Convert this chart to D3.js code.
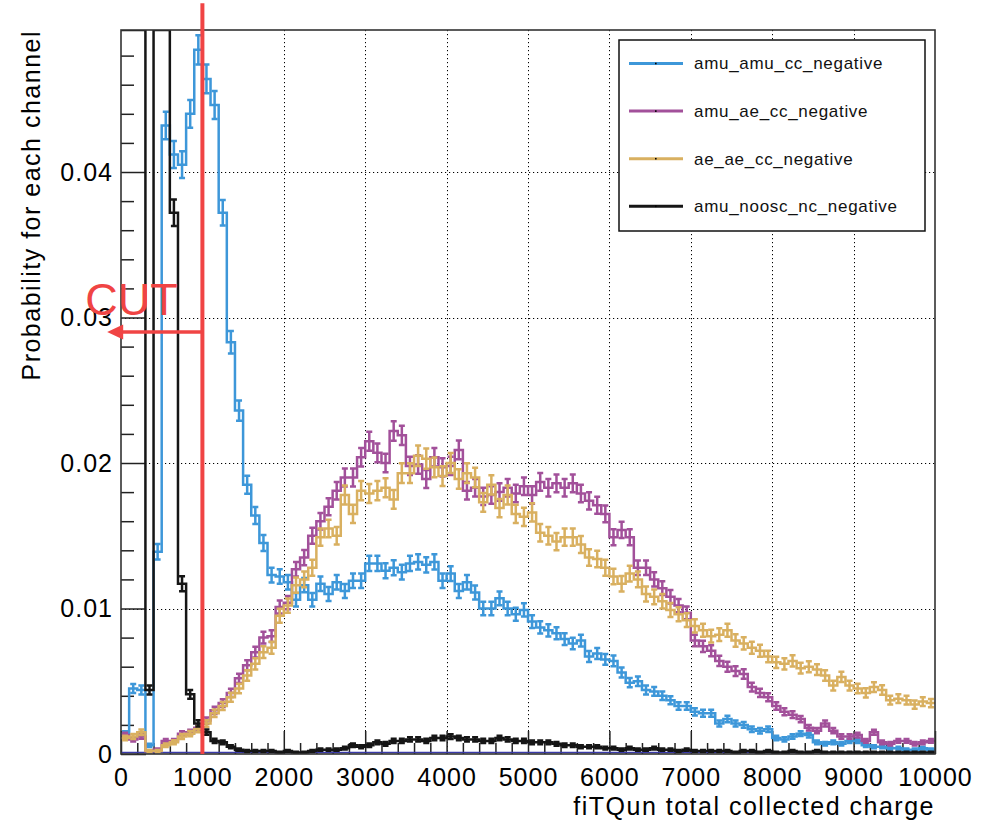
<!DOCTYPE html>
<html>
<head>
<meta charset="utf-8">
<script src="https://cdn.jsdelivr.net/npm/d3@7/dist/d3.min.js"></script>
<style>
  body { margin: 0; background: #fff; }
  svg { display: block; }
  text { font-family: "Liberation Sans", Arial, Helvetica, sans-serif; }
</style>
</head>
<body>
<svg id="chart" width="994" height="821"></svg>
<script>
// ---- Histogram definition: 100 bins over the collected-charge range ----
const binRange = [0, 10000];
const binCount = 100;
const yMax = 0.04976;

const seriesNames = [
  "amu_amu_cc_negative",
  "amu_ae_cc_negative",
  "ae_ae_cc_negative",
  "amu_noosc_nc_negative"
];

// Normalised bin contents (probability per 100-unit bin)
const amuAmuCC = [
  0.0014, 0.0045, 0.0044, 0.0006, 0.0139, 0.0432, 0.0412, 0.0405, 0.0440, 0.0484,
  0.0464, 0.0446, 0.0372, 0.0283, 0.0236, 0.0185, 0.0164, 0.0145, 0.0123, 0.0122,
  0.0118, 0.0106, 0.0116, 0.0106, 0.0117, 0.0110, 0.0118, 0.0112, 0.0119, 0.0119,
  0.0131, 0.0131, 0.0126, 0.0128, 0.0125, 0.0131, 0.0132, 0.0130, 0.0132, 0.0119,
  0.0124, 0.0112, 0.0118, 0.0111, 0.0100, 0.0100, 0.0107, 0.0100, 0.0096, 0.0099,
  0.0091, 0.0087, 0.0085, 0.0083, 0.0079, 0.0076, 0.0078, 0.0067, 0.0069, 0.0065,
  0.0064, 0.0056, 0.0049, 0.0050, 0.0044, 0.0043, 0.0040, 0.0037, 0.0033, 0.0033,
  0.0029, 0.0028, 0.0028, 0.0021, 0.0024, 0.0021, 0.0020, 0.0017, 0.0016, 0.0017,
  0.0011, 0.0010, 0.0012, 0.0014, 0.0013, 0.0008, 0.0007, 0.0008, 0.0007, 0.0009,
  0.0009, 0.0006, 0.0005, 0.0005, 0.0004, 0.0004, 0.0003, 0.0003, 0.0004, 0.0003
];

const amuAeCC = [
  0.0013, 0.0010, 0.0012, 0.0002, 0.0003, 0.0009, 0.0009, 0.0014, 0.0015, 0.0018,
  0.0023, 0.0030, 0.0035, 0.0042, 0.0052, 0.0061, 0.0070, 0.0080, 0.0081, 0.0101,
  0.0104, 0.0127, 0.0135, 0.0150, 0.0160, 0.0170, 0.0181, 0.0190, 0.0190, 0.0204,
  0.0215, 0.0207, 0.0200, 0.0222, 0.0219, 0.0198, 0.0199, 0.0189, 0.0204, 0.0197,
  0.0198, 0.0209, 0.0181, 0.0183, 0.0177, 0.0178, 0.0180, 0.0183, 0.0179, 0.0184,
  0.0178, 0.0187, 0.0183, 0.0186, 0.0183, 0.0186, 0.0179, 0.0174, 0.0171, 0.0165,
  0.0149, 0.0154, 0.0149, 0.0128, 0.0128, 0.0120, 0.0114, 0.0108, 0.0102, 0.0097,
  0.0078, 0.0074, 0.0071, 0.0064, 0.0060, 0.0057, 0.0055, 0.0046, 0.0042, 0.0039,
  0.0033, 0.0029, 0.0027, 0.0024, 0.0018, 0.0016, 0.0021, 0.0016, 0.0012, 0.0012,
  0.0013, 0.0009, 0.0015, 0.0008, 0.0007, 0.0009, 0.0009, 0.0007, 0.0008, 0.0009
];

const aeAeCC = [
  0.0011, 0.0012, 0.0015, 0.0002, 0.0002, 0.0006, 0.0008, 0.0012, 0.0014, 0.0017,
  0.0021, 0.0028, 0.0033, 0.0039, 0.0045, 0.0054, 0.0062, 0.0070, 0.0073, 0.0095,
  0.0102, 0.0116, 0.0120, 0.0128, 0.0149, 0.0155, 0.0150, 0.0178, 0.0165, 0.0181,
  0.0179, 0.0181, 0.0183, 0.0175, 0.0193, 0.0193, 0.0205, 0.0203, 0.0197, 0.0191,
  0.0200, 0.0189, 0.0193, 0.0190, 0.0173, 0.0185, 0.0169, 0.0178, 0.0165, 0.0163,
  0.0166, 0.0152, 0.0150, 0.0146, 0.0149, 0.0149, 0.0144, 0.0135, 0.0134, 0.0128,
  0.0122, 0.0117, 0.0124, 0.0120, 0.0110, 0.0108, 0.0105, 0.0099, 0.0096, 0.0092,
  0.0088, 0.0085, 0.0081, 0.0082, 0.0085, 0.0078, 0.0076, 0.0073, 0.0071, 0.0067,
  0.0063, 0.0062, 0.0064, 0.0059, 0.0060, 0.0058, 0.0054, 0.0047, 0.0053, 0.0047,
  0.0045, 0.0042, 0.0046, 0.0044, 0.0037, 0.0038, 0.0037, 0.0034, 0.0036, 0.0035
];

const amuNooscNC = [
  0.1200, 0.2200, 0.2600, 0.0044, 0.1500, 0.0700, 0.0372, 0.0117, 0.0041, 0.0021,
  0.0015, 0.0009, 0.0008, 0.0005, 0.0003, 0.0002, 0.0002, 0.0002, 0.0002, 0.0001,
  0.0002, 0.0001, 0.0001, 0.0002, 0.0003, 0.0003, 0.0003, 0.0004, 0.0006, 0.0005,
  0.0006, 0.0008, 0.0007, 0.0009, 0.0009, 0.0010, 0.0010, 0.0009, 0.0011, 0.0011,
  0.0012, 0.0011, 0.0010, 0.0010, 0.0009, 0.0009, 0.0011, 0.0010, 0.0009, 0.0009,
  0.0008, 0.0008, 0.0008, 0.0007, 0.0006, 0.0006, 0.0005, 0.0005, 0.0005, 0.0004,
  0.0004, 0.0003, 0.0004, 0.0003, 0.0003, 0.0004, 0.0003, 0.0003, 0.0002, 0.0003,
  0.0002, 0.0002, 0.0002, 0.0002, 0.0002, 0.0001, 0.0002, 0.0002, 0.0001, 0.0002,
  0.0001, 0.0001, 0.0002, 0.0001, 0.0001, 0.0002, 0.0001, 0.0001, 0.0001, 0.0001,
  0.0001, 0.0001, 0.0001, 0.0001, 0.0001, 0.0001, 0.0001, 0.0001, 0.0001, 0.0001
];

// Effective number of entries per channel, used for the Poisson error bars
const effectiveEntries = [48000, 50000, 42000, 45000];

const xTickLabels = ["0", "1000", "2000", "3000", "4000", "5000", "6000", "7000", "8000", "9000", "10000"];
const yTickLabels = ["0", "0.01", "0.02", "0.03", "0.04"];

const xTitle = "fiTQun total collected charge";
const yTitle = "Probability for each channel";

// Selection cut
const cutValue = 1000;
const cutLabel = "CUT";

// ---- Layout ----
const frame = { left: 121, right: 935, top: 30, bottom: 754 };
const colors = ["#3d97d9", "#a2509a", "#d9b060", "#151515"];

const svg = d3.select("#chart");
const x = d3.scaleLinear().domain(binRange).range([frame.left, frame.right]);
const y = d3.scaleLinear().domain([0, yMax]).range([frame.bottom, frame.top]);
const yc = y.copy().clamp(true);

svg.append("defs").append("clipPath").attr("id", "frameClip")
  .append("rect")
  .attr("x", frame.left).attr("y", frame.top)
  .attr("width", frame.right - frame.left).attr("height", frame.bottom - frame.top);

// ---- Grid (dotted) ----
const xMajor = xTickLabels.map(Number);
const yMajor = yTickLabels.map(Number);
const grid = svg.append("g").attr("stroke", "#000").attr("stroke-width", 1).attr("stroke-dasharray", "1.2,2.8");
grid.selectAll("line.gx").data(xMajor.slice(1, -1)).join("line")
  .attr("x1", d => Math.round(x(d)) + 0.5).attr("x2", d => Math.round(x(d)) + 0.5)
  .attr("y1", frame.top).attr("y2", frame.bottom);
grid.selectAll("line.gy").data(yMajor.slice(1)).join("line")
  .attr("y1", d => Math.round(y(d)) + 0.5).attr("y2", d => Math.round(y(d)) + 0.5)
  .attr("x1", frame.left).attr("x2", frame.right);

// ---- Axes (ticks inside the frame) ----
const axisColor = "#222";
const xAxisG = svg.append("g").attr("transform", `translate(0,${frame.bottom})`);
xAxisG.call(d3.axisBottom(x).tickValues(xMajor).tickFormat((d, i) => xTickLabels[i])
  .tickSizeInner(-23).tickSizeOuter(0).tickPadding(14));
const xMinorG = svg.append("g").attr("transform", `translate(0,${frame.bottom})`);
xMinorG.call(d3.axisBottom(x).tickValues(d3.range(binRange[0], binRange[1] + 1, 200).filter(v => v % 1000 !== 0))
  .tickFormat("").tickSizeInner(-11).tickSizeOuter(0));

const yAxisG = svg.append("g").attr("transform", `translate(${frame.left},0)`);
yAxisG.call(d3.axisLeft(y).tickValues(yMajor).tickFormat((d, i) => yTickLabels[i])
  .tickSizeInner(-25).tickSizeOuter(0).tickPadding(8));
const yMinorG = svg.append("g").attr("transform", `translate(${frame.left},0)`);
yMinorG.call(d3.axisLeft(y).tickValues(d3.range(0, yMax, 0.002).filter((v, i) => i % 5 !== 0))
  .tickFormat("").tickSizeInner(-13).tickSizeOuter(0));

[xAxisG, xMinorG, yAxisG, yMinorG].forEach(g => {
  g.select(".domain").remove();
  g.selectAll(".tick line").attr("stroke", axisColor).attr("stroke-width", 1.5);
  g.selectAll(".tick text").attr("fill", "#000").attr("font-size", 25)
    .attr("letter-spacing", 1).attr("font-family", '"Liberation Sans", Arial, sans-serif');
});

// ---- Histograms ----
const binWidth = (binRange[1] - binRange[0]) / binCount;
const allSeries = [amuAmuCC, amuAeCC, aeAeCC, amuNooscNC];

function stepPath(vals) {
  const p = d3.path();
  vals.forEach((v, i) => {
    const x0 = x(binRange[0] + i * binWidth);
    const x1 = x(binRange[0] + (i + 1) * binWidth);
    const yy = yc(v);
    if (i === 0) p.moveTo(x0, yy); else p.lineTo(x0, yy);
    p.lineTo(x1, yy);
  });
  return p.toString();
}

const plot = svg.append("g").attr("clip-path", "url(#frameClip)");

// Empty reference histogram lying on the zero level
plot.append("line")
  .attr("x1", frame.left).attr("x2", frame.right)
  .attr("y1", y(0) - 1.5).attr("y2", y(0) - 1.5)
  .attr("stroke", "#3a3aa8").attr("stroke-width", 1.5);

allSeries.forEach((vals, s) => {
  const g = plot.append("g").attr("stroke", colors[s]).attr("fill", "none")
    .attr("stroke-width", 2.5).attr("stroke-linejoin", "miter");
  g.append("path").attr("d", stepPath(vals));
  const bars = vals.map((v, i) => ({ v, i, e: Math.sqrt(v / effectiveEntries[s]) }))
    .filter(d => d.v > 0 && d.v < yMax);
  const cap = 3;
  g.selectAll("path.err").data(bars).join("path")
    .attr("d", d => {
      const cx = x(binRange[0] + (d.i + 0.5) * binWidth);
      const ylo = yc(d.v - d.e), yhi = yc(d.v + d.e);
      return `M${cx},${ylo}L${cx},${yhi}M${cx - cap},${ylo}L${cx + cap},${ylo}M${cx - cap},${yhi}L${cx + cap},${yhi}`;
    });
});

// ---- Frame ----
svg.append("rect")
  .attr("x", frame.left).attr("y", frame.top)
  .attr("width", frame.right - frame.left).attr("height", frame.bottom - frame.top)
  .attr("fill", "none").attr("stroke", "#333").attr("stroke-width", 1.6);

// ---- Axis titles ----
svg.append("text")
  .attr("x", frame.right).attr("y", 815)
  .attr("text-anchor", "end").attr("font-size", 25).attr("letter-spacing", 1.5)
  .text(xTitle);
svg.append("text")
  .attr("transform", `translate(40,${frame.top}) rotate(-90)`)
  .attr("text-anchor", "end").attr("font-size", 25).attr("letter-spacing", 1.5)
  .text(yTitle);

// ---- Legend ----
const legend = svg.append("g");
legend.append("rect")
  .attr("x", 619).attr("y", 40).attr("width", 306).attr("height", 191)
  .attr("fill", "#fff").attr("stroke", "#111").attr("stroke-width", 1.5);
seriesNames.forEach((name, i) => {
  const cy = 63.5 + i * 47.6;
  legend.append("line").attr("x1", 629).attr("x2", 683).attr("y1", cy).attr("y2", cy)
    .attr("stroke", colors[i]).attr("stroke-width", 3);
  legend.append("rect").attr("x", 655).attr("y", cy - 0.8).attr("width", 1.6).attr("height", 1.6).attr("fill", "#000");
  legend.append("text").attr("x", 694).attr("y", cy).attr("dy", "0.35em")
    .attr("font-size", 17).attr("letter-spacing", 0.7).attr("fill", "#111").text(name);
});

// ---- Cut marker ----
const red = "#f04444";
const cut = svg.append("g");
cut.append("line")
  .attr("x1", x(cutValue)).attr("x2", x(cutValue))
  .attr("y1", y(0.0516)).attr("y2", y(0))
  .attr("stroke", red).attr("stroke-width", 4);
const arrowLevel = 0.0290;
const arrowTip = -170;
cut.append("line")
  .attr("x1", x(cutValue)).attr("x2", x(arrowTip) + 12)
  .attr("y1", y(arrowLevel)).attr("y2", y(arrowLevel))
  .attr("stroke", red).attr("stroke-width", 3.5);
cut.append("path")
  .attr("d", `M${x(arrowTip)},${y(arrowLevel)}L${x(arrowTip) + 16},${y(arrowLevel) - 7.5}L${x(arrowTip) + 16},${y(arrowLevel) + 7.5}Z`)
  .attr("fill", red);
cut.append("text")
  .attr("x", x(-440)).attr("y", y(0.03017))
  .attr("font-size", 45).attr("fill", red).text(cutLabel);
</script>
</body>
</html>
